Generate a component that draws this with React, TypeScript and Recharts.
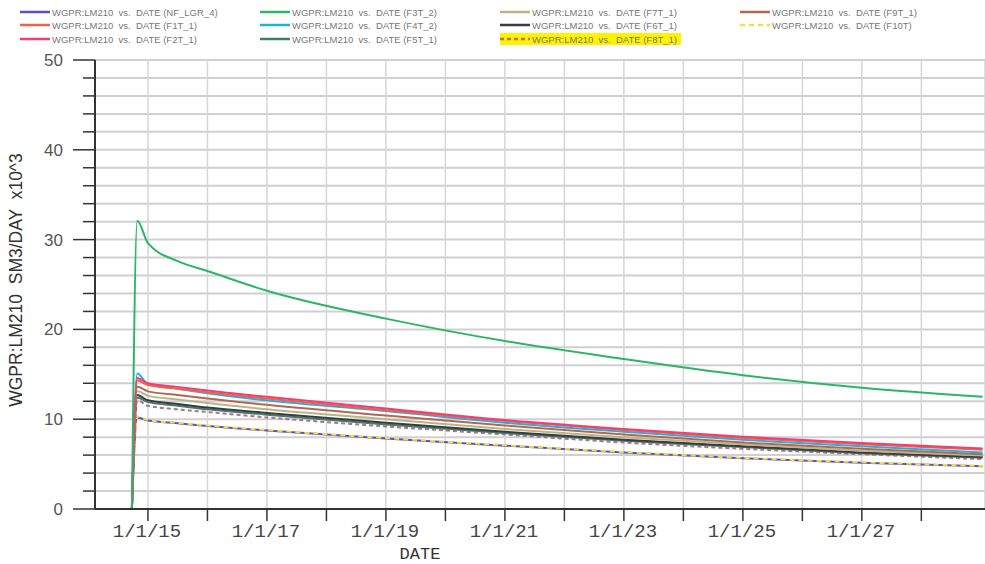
import { LineChart, Line, XAxis, YAxis, CartesianGrid } from 'recharts';

// decimal years
const dates = [2014.73, 2014.82, 2015, 2015.5, 2016, 2017, 2019, 2021, 2023, 2025, 2027, 2029.03];

const nfLgr4 = [0, 10.2, 9.85, 9.55, 9.25, 8.75, 7.85, 7.05, 6.3, 5.65, 5.15, 4.75];
const f1t1 = [0, 14.3, 13.8, 13.4, 13.0, 12.3, 11.0, 9.8, 8.8, 7.9, 7.2, 6.6];
const f2t1 = [0, 14.6, 14.0, 13.6, 13.2, 12.5, 11.2, 9.9, 8.9, 8.05, 7.35, 6.75];
const f3t2 = [0, 32.1, 29.6, 27.6, 26.5, 24.3, 21.2, 18.7, 16.7, 14.9, 13.5, 12.5];
const f4t2 = [0, 15.1, 13.9, 13.4, 12.9, 12.1, 10.9, 9.6, 8.6, 7.7, 7.0, 6.3];
const f5t1 = [0, 12.4, 11.9, 11.5, 11.1, 10.5, 9.4, 8.45, 7.6, 6.9, 6.2, 5.7];
const f6t1 = [0, 12.7, 12.1, 11.7, 11.3, 10.7, 9.6, 8.6, 7.7, 7.0, 6.3, 5.8];
const f7t1 = [0, 13.1, 12.6, 12.2, 11.8, 11.1, 10.0, 8.9, 8.0, 7.2, 6.5, 5.95];
const f8t1 = [0, 12.1, 11.5, 11.1, 10.8, 10.2, 9.2, 8.3, 7.4, 6.7, 6.1, 5.55];
const f9t1 = [0, 13.6, 13.1, 12.7, 12.3, 11.6, 10.4, 9.3, 8.3, 7.4, 6.7, 6.1];
const f10t = [0, 10.3, 9.9, 9.6, 9.3, 8.8, 7.9, 7.1, 6.35, 5.7, 5.2, 4.8];

const xTicks = [2015, 2016, 2017, 2018, 2019, 2020, 2021, 2022, 2023, 2024, 2025, 2026, 2027, 2028];
const yTicks = [0, 2, 4, 6, 8, 10, 12, 14, 16, 18, 20, 22, 24, 26, 28, 30, 32, 34, 36, 38, 40, 42, 44, 46, 48, 50];

type Series = { key: string; values: number[]; color: string; dash?: string };

const series: Series[] = [
  { key: 'NF_LGR_4', values: nfLgr4, color: '#5b4fc4' },
  { key: 'F3T_2', values: f3t2, color: '#2db566' },
  { key: 'F7T_1', values: f7t1, color: '#bab585' },
  { key: 'F9T_1', values: f9t1, color: '#b5674e' },
  { key: 'F1T_1', values: f1t1, color: '#f2643c' },
  { key: 'F4T_2', values: f4t2, color: '#1fb0e8' },
  { key: 'F6T_1', values: f6t1, color: '#3a3a48' },
  { key: 'F10T', values: f10t, color: '#f2e03a', dash: '5 4' },
  { key: 'F2T_1', values: f2t1, color: '#ee3f7c' },
  { key: 'F5T_1', values: f5t1, color: '#3e8060' },
  { key: 'F8T_1', values: f8t1, color: '#b0708a', dash: '4 3' },
];

// draw order, last on top
const drawOrder = ['NF_LGR_4', 'F10T', 'F8T_1', 'F5T_1', 'F6T_1', 'F7T_1', 'F9T_1', 'F4T_2', 'F1T_1', 'F2T_1', 'F3T_2'];

const data = dates.map((t, i) => {
  const row: Record<string, number> = { t };
  series.forEach((s) => {
    row[s.key] = s.values[i];
  });
  return row;
});

const YTick = ({ x, y, payload }: any) => {
  const major = payload.value % 10 === 0;
  return (
    <g>
      <line x1={x - (major ? 22 : 12)} x2={x} y1={y} y2={y} stroke="#333" strokeWidth={1.5} />
      {major && (
        <text x={x - 32} y={y + 6} textAnchor="end" fontSize={17} fill="#555" fontFamily="Liberation Sans, Arial">
          {payload.value}
        </text>
      )}
    </g>
  );
};

const XTick = ({ x, y, payload }: any) => {
  const yr = payload.value as number;
  return (
    <g>
      <line x1={x} x2={x} y1={y} y2={y + 12} stroke="#333" strokeWidth={1.5} />
      {yr % 2 === 1 && (
        <text x={x - 1} y={y + 28} textAnchor="middle" fontSize={19} fill="#444" fontFamily="Liberation Mono, monospace">
          {`1/1/${String(yr).slice(2)}`}
        </text>
      )}
    </g>
  );
};

// axis titles, both drawn from the x axis label
const AxisTitles = () => (
  <g>
    <text x={420} y={559} textAnchor="middle" fontSize={17} fill="#333" fontFamily="Liberation Mono, monospace">
      DATE
    </text>
    <text
      x={22}
      y={280}
      textAnchor="middle"
      fontSize={17.5}
      fill="#333"
      fontFamily="Liberation Sans, Arial"
      transform="rotate(-90 22 280)"
      style={{ whiteSpace: 'pre' }}
    >
      {'WGPR:LM210  SM3/DAY  x10^3'}
    </text>
  </g>
);

const legendCols = [
  ['NF_LGR_4', 'F1T_1', 'F2T_1'],
  ['F3T_2', 'F4T_2', 'F5T_1'],
  ['F7T_1', 'F6T_1', 'F8T_1'],
  ['F9T_1', 'F10T'],
];
const legendX = [20, 260, 500, 740];
const legendY = [6, 19, 33];

function ChartLegend() {
  return (
    <>
      {legendCols.map((col, ci) =>
        col.map((key, ri) => {
          const s = series.find((d) => d.key === key)!;
          const hl = key === 'F8T_1';
          return (
            <div
              key={key}
              style={{
                position: 'absolute',
                left: legendX[ci],
                top: legendY[ri],
                height: 12,
                display: 'flex',
                alignItems: 'center',
                background: hl ? '#fff200' : 'transparent',
                fontFamily: 'Liberation Sans, Arial',
                fontSize: 9.5,
                color: '#777',
                whiteSpace: 'pre',
                paddingRight: hl ? 4 : 0,
              }}
            >
              <svg width={30} height={6} style={{ marginRight: 2 }}>
                <line
                  x1={0}
                  x2={30}
                  y1={3}
                  y2={3}
                  stroke={hl ? '#c0704a' : s.color}
                  strokeWidth={2.5}
                  strokeDasharray={s.dash}
                />
              </svg>
              {`WGPR:LM210  vs.  DATE (${key})`}
            </div>
          );
        })
      )}
    </>
  );
}

export default function App() {
  return (
    <div style={{ position: 'absolute', left: 0, top: 0, width: 985, height: 564, background: '#fff' }}>
      <ChartLegend />
      <LineChart width={985} height={564} data={data} margin={{ top: 60, right: 0, bottom: 0, left: 0 }}>
        <CartesianGrid stroke="#cfcfd4" strokeWidth={2} vertical={false} />
        <CartesianGrid stroke="#d6d6da" strokeWidth={1.5} horizontal={false} />
        <XAxis
          dataKey="t"
          type="number"
          domain={[2014.11, 2029.07]}
          ticks={xTicks}
          interval={0}
          height={55}
          tickSize={0}
          tickMargin={0}
          tick={<XTick />}
          axisLine={{ stroke: '#333', strokeWidth: 2 }}
          allowDataOverflow
          label={{ content: () => <AxisTitles /> }}
        />
        <YAxis
          type="number"
          domain={[0, 50]}
          ticks={yTicks}
          interval={0}
          width={95}
          tickSize={0}
          tickMargin={0}
          tick={<YTick />}
          axisLine={{ stroke: '#333', strokeWidth: 2 }}
        />
        {drawOrder.map((k) => {
          const s = series.find((d) => d.key === k)!;
          return (
            <Line
              key={k}
              dataKey={k}
              type="monotone"
              stroke={s.color}
              strokeWidth={2}
              strokeDasharray={s.dash}
              dot={false}
              isAnimationActive={false}
            />
          );
        })}
      </LineChart>
    </div>
  );
}
